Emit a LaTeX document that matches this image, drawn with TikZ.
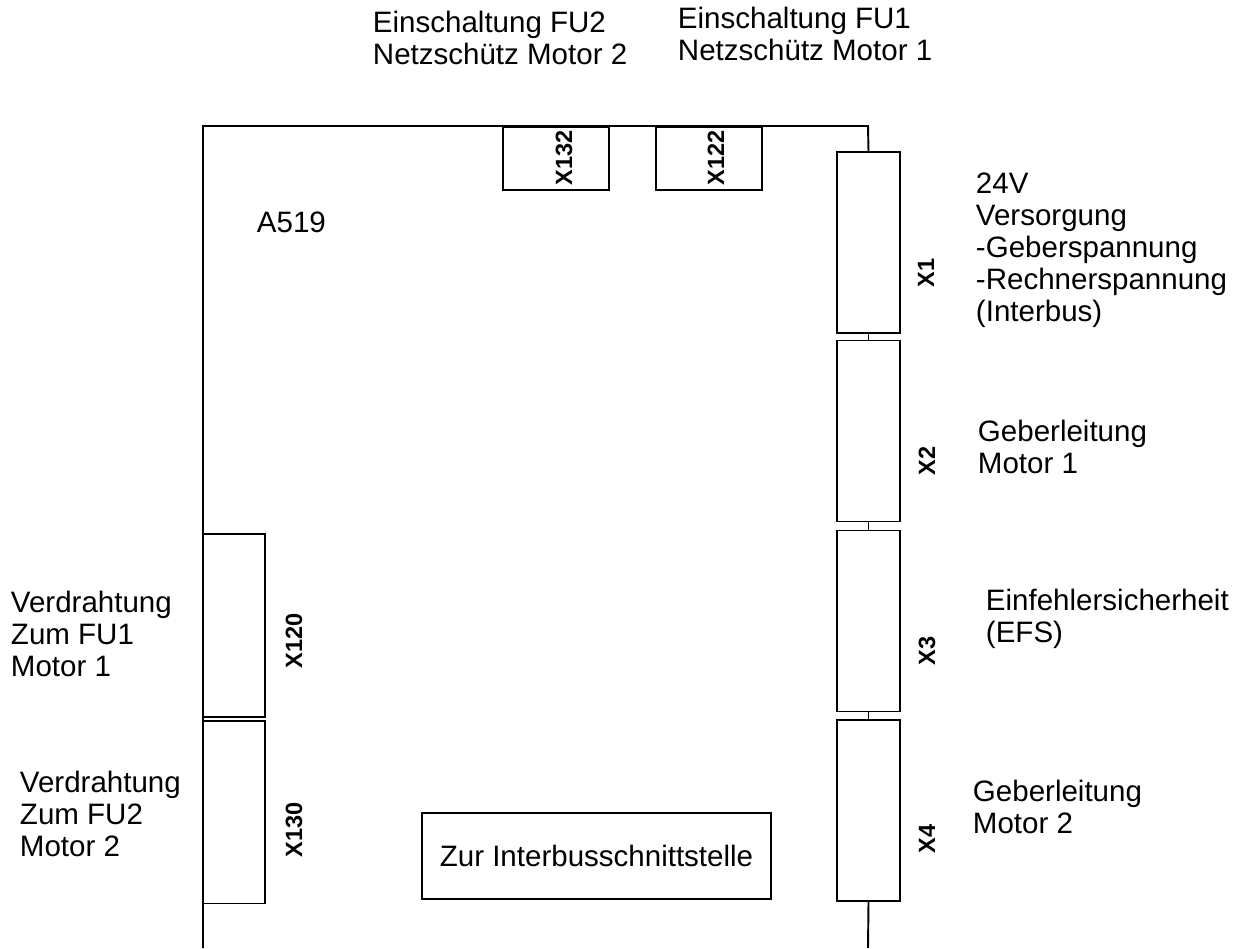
\documentclass[tikz,border=0pt]{standalone}
\usepackage{fontspec}
\setmainfont{Liberation Sans}
\usepackage{tikz}

\begin{document}
\begin{tikzpicture}[x=0.02cm,y=-0.02cm,line width=1.1pt,
    conn/.style={draw,inner sep=0pt},
    rconn/.style={conn,minimum width=1.26cm,minimum height=3.62cm},
    lconn/.style={conn,minimum width=1.24cm,minimum height=3.66cm},
    tconn/.style={conn,minimum width=2.12cm,minimum height=1.26cm},
    pinlbl/.style={rotate=90,inner sep=0pt,font=\fontsize{13.4}{15}\selectfont\bfseries},
    notetext/.style={anchor=north west,inner sep=0pt,align=left,font=\fontsize{16.8}{18.2}\selectfont}]
  \useasboundingbox (0,0) rectangle (1240,948);
  % board outline
  \coordinate (tl) at (203,126);
  \coordinate (tr) at (868,126);
  \coordinate (bl) at (203,948);
  \coordinate (br) at (868,948);
  % connectors on the right edge
  \node[rconn] (X1) at (868.5,242.5) {};
  \node[rconn] (X2) at (868.5,431) {};
  \node[rconn] (X3) at (868.5,621) {};
  \node[rconn] (X4) at (868.5,810.5) {};
  % connectors on the left edge
  \node[lconn] (X120) at (234,625.5) {};
  \node[lconn] (X130) at (234,812) {};
  % connectors on the top edge
  \node[tconn] (X132) at (556,158.5) {};
  \node[tconn] (X122) at (709,158.5) {};
  \draw (bl) -- (tl) -- (tr) -- (X1.north);
  \draw (X1.south) -- (X2.north);
  \draw (X2.south) -- (X3.north);
  \draw (X3.south) -- (X4.north);
  \draw (X4.south) -- (br);
  % connector labels
  \node[pinlbl] (lX1) at (926,273) {X1};
  \node[pinlbl] (lX2) at (927,461) {X2};
  \node[pinlbl] (lX3) at (927,651) {X3};
  \node[pinlbl] (lX4) at (927,839) {X4};
  \node[pinlbl] (lX120) at (294,641) {X120};
  \node[pinlbl] (lX130) at (294,830) {X130};
  \node[pinlbl] (lX132) at (564,158) {X132};
  \node[pinlbl] (lX122) at (716,158) {X122};
  % board name and interface box
  \node[notetext] (board) at (256,211) {A519};
  \node[conn,minimum width=6.98cm,minimum height=1.72cm,
    font=\fontsize{16.8}{18.2}\selectfont] (bus) at (596.5,856) {Zur Interbusschnittstelle};
  % descriptions
  \node[notetext] (dX132) at (372,10) {Einschaltung FU2\\Netzschütz Motor 2};
  \node[notetext] (dX122) at (677,6) {Einschaltung FU1\\Netzschütz Motor 1};
  \node[notetext] (dX1) at (975,172) {24V\\Versorgung\\-Geberspannung\\-Rechnerspannung\\(Interbus)};
  \node[notetext] (dX2) at (977,419) {Geberleitung\\Motor 1};
  \node[notetext] (dX3) at (985,588) {Einfehlersicherheit\\(EFS)};
  \node[notetext] (dX4) at (972,779) {Geberleitung\\Motor 2};
  \node[notetext] (dX120) at (10,590) {Verdrahtung\\Zum FU1\\Motor 1};
  \node[notetext] (dX130) at (19,770) {Verdrahtung\\Zum FU2\\Motor 2};
\end{tikzpicture}
\end{document}
